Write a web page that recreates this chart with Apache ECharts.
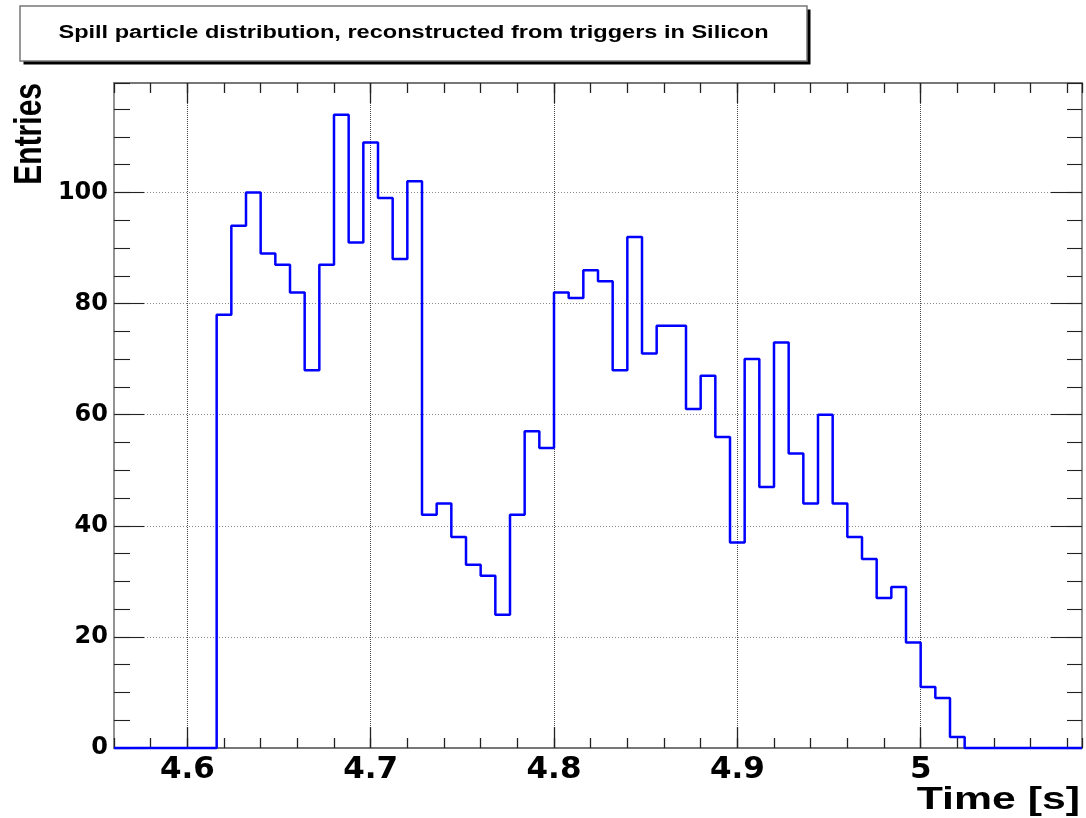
<!DOCTYPE html>
<html>
<head>
<meta charset="utf-8">
<title>Spill particle distribution</title>
<script src="https://cdn.jsdelivr.net/npm/echarts@6/dist/echarts.min.js"></script>
<style>
  html, body { margin: 0; padding: 0; background: #ffffff; }
  #chart { width: 1086px; height: 818px; }
</style>
</head>
<body>
<div id="chart"></div>
<script>
// Histogram binning: 66 bins of 8 ms covering 4.56 s .. 5.088 s
const binStart = 4.56;
const binWidth = 0.008;

// Entries per bin
const counts = [
  0, 0, 0, 0, 0, 0, 0,
  78, 94, 100, 89, 87, 82, 68, 87, 114, 91, 109, 99, 88, 102,
  42, 44, 38, 33, 31, 24, 42, 57, 54,
  82, 81, 86, 84, 68, 92, 71, 76, 76, 61, 67, 56, 37, 70, 47, 73, 53, 44, 60, 44,
  38, 34, 27, 29, 19, 11, 9, 2,
  0, 0, 0, 0, 0, 0, 0, 0
];

// Axis ranges and tick labels
const xRange = [4.56, 5.088];
const yRange = [0, 119.7];
const xTicks = [4.6, 4.7, 4.8, 4.9, 5];
const yTicks = [0, 20, 40, 60, 80, 100];
const xMinorStep = 0.02;
const yMinorStep = 5;

const titleText = 'Spill particle distribution, reconstructed from triggers in Silicon';
const xTitle = 'Time [s]';
const yTitle = 'Entries';

const FONT = 'DejaVu Sans';
const TITLE_FONT = '"Liberation Sans", Arial, sans-serif';
const FRAME = '#777777';
const TICK = '#222222';

// Step outline: one point at each bin's lower edge, plus the closing upper edge
const histPoints = counts.map((c, i) => [+(binStart + i * binWidth).toFixed(3), c]);
histPoints.push([+(binStart + counts.length * binWidth).toFixed(3), counts[counts.length - 1]]);

function xAxisDef(position, major) {
  const isBottom = position === 'bottom';
  const def = {
    type: 'value',
    position: position,
    min: xRange[0],
    max: xRange[1],
    axisLine: { show: major, onZero: false, lineStyle: { color: FRAME, width: 2 } },
    axisTick: {
      show: true, inside: true,
      length: major ? (isBottom ? 21 : 20) : 10,
      lineStyle: { color: TICK, width: 1.3 }
    },
    axisLabel: { show: false },
    splitLine: { show: false }
  };
  if (major) {
    def.axisTick.customValues = xTicks;
  } else {
    def.interval = xMinorStep;
  }
  if (major && isBottom) {
    def.axisLabel = {
      show: true, customValues: xTicks, margin: 6,
      color: '#000', fontFamily: FONT, fontWeight: 'bold', fontSize: 31,
      formatter: v => String(v)
    };
    def.splitLine = { show: true, lineStyle: { color: '#444', width: 1, type: [1, 1] } };
  }
  return def;
}

function yAxisDef(position, major) {
  const isLeft = position === 'left';
  const def = {
    type: 'value',
    position: position,
    min: yRange[0],
    max: yRange[1],
    axisLine: { show: major, onZero: false, lineStyle: { color: FRAME, width: 1.6 } },
    axisTick: {
      show: true, inside: true,
      length: major ? (isLeft ? 30 : 31) : (isLeft ? 16 : 15),
      lineStyle: { color: TICK, width: 1.1 }
    },
    axisLabel: { show: false },
    splitLine: { show: false }
  };
  if (major) {
    def.axisTick.customValues = yTicks;
  } else {
    def.interval = yMinorStep;
  }
  if (major && isLeft) {
    def.axisLabel = {
      show: true, customValues: yTicks, margin: 6,
      color: '#000', fontFamily: FONT, fontWeight: 'bold', fontSize: 24
    };
    def.splitLine = { show: true, lineStyle: { color: '#888', width: 1, type: [1, 2] } };
  }
  return def;
}

const chart = echarts.init(document.getElementById('chart'), null, { renderer: 'canvas', width: 1086, height: 818 });

chart.setOption({
  animation: false,
  backgroundColor: '#ffffff',
  grid: {
    left: 114, top: 83, width: 968, height: 665,
    containLabel: false,
    outerBoundsMode: 'none'
  },
  xAxis: [
    xAxisDef('bottom', true),
    xAxisDef('bottom', false),
    xAxisDef('top', true),
    xAxisDef('top', false)
  ],
  yAxis: [
    yAxisDef('left', true),
    yAxisDef('left', false),
    yAxisDef('right', true),
    yAxisDef('right', false)
  ],
  series: [{
    type: 'line',
    name: 'Entries',
    xAxisIndex: 0,
    yAxisIndex: 0,
    data: histPoints,
    step: 'end',
    showSymbol: false,
    symbol: 'none',
    clip: false,
    z: 5,
    lineStyle: { color: '#0000ff', width: 2.5 }
  }],
  graphic: [
    // title box with hard drop shadow
    {
      type: 'rect', z: 10,
      shape: { x: 23.5, y: 9.5, width: 787, height: 55 },
      style: { fill: '#000000' }
    },
    {
      type: 'rect', z: 11,
      shape: { x: 20, y: 6, width: 787, height: 55 },
      style: { fill: '#ffffff', stroke: '#777777', lineWidth: 1.5 }
    },
    {
      type: 'text', z: 12, x: 413.5, y: 33, scaleX: 1.345,
      style: {
        text: titleText, fill: '#000',
        font: 'bold 17.5px ' + TITLE_FONT,
        textAlign: 'center', textVerticalAlign: 'middle'
      }
    },
    // axis titles, drawn wide like the rest of the lettering
    {
      type: 'text', z: 12, x: 1080, y: 800, scaleX: 1.38,
      style: {
        text: xTitle, fill: '#000',
        font: 'bold 31px ' + TITLE_FONT,
        textAlign: 'right', textVerticalAlign: 'middle'
      }
    },
    {
      type: 'text', z: 12, x: 30, y: 83, rotation: Math.PI / 2, scaleY: 1.3,
      style: {
        text: yTitle, fill: '#000',
        font: 'bold 30px ' + TITLE_FONT,
        textAlign: 'right', textVerticalAlign: 'middle'
      }
    }
  ]
});
</script>
</body>
</html>
